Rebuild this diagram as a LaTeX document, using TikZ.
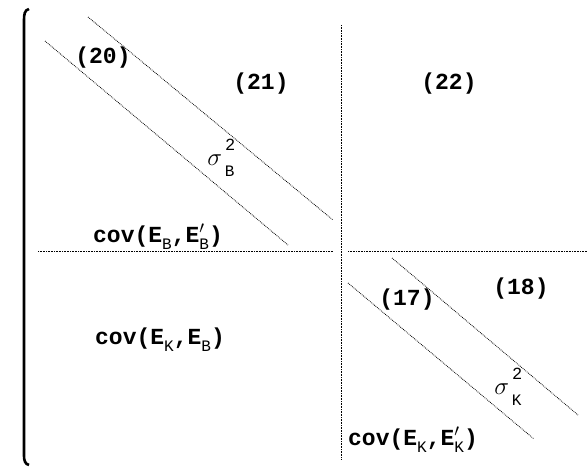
\documentclass[tikz,border=0pt]{standalone}
\usepackage{fontspec}
\setmonofont{Liberation Mono}
\usetikzlibrary{positioning}
\newcommand{\lowsub}[1]{\raisebox{-0.55ex}{\fontsize{16}{16}\mdseries\selectfont #1}}
\newcommand{\sigsq}[1]{\fontsize{26}{28}\selectfont$\sigma$\rlap{\raisebox{1.1ex}{\fontsize{17}{17}\mdseries\selectfont\,2}}\raisebox{-0.8ex}{\fontsize{16}{16}\mdseries\selectfont\,#1}}
\tikzset{
  lbl/.style={font=\ttfamily\bfseries\fontsize{23}{26}\selectfont, inner sep=1pt},
  sep/.style={dash pattern=on 0.8pt off 0.8pt, line width=0.9pt},
  diag/.style={dash pattern=on 0.8pt off 1pt, line width=0.8pt},
  brk/.style={line width=2.6pt},
}
\begin{document}
\begin{tikzpicture}[x=1pt, y=-1pt]
    \useasboundingbox (0,0) rectangle (587,467);
    % outer bracket
    \draw[brk] (29,9) to[out=190,in=90] (24,20) -- (24,456) to[out=-90,in=170] (29,465);
    % block separators
    \coordinate (vtop) at (341,25);
    \coordinate (vbot) at (341,460);
    \coordinate (hl1) at (38,251);
    \coordinate (hl2) at (333,251);
    \coordinate (hr1) at (348,251);
    \coordinate (hr2) at (587,251);
    \draw[sep] (vtop) -- (vbot);
    \draw[sep] (hl1) -- (hl2);
    \draw[sep] (hr1) -- (hr2);
    % upper left block
    \coordinate (bu1) at (88,17);
    \coordinate (bu2) at (333,220);
    \coordinate (bl1) at (45,41);
    \coordinate (bl2) at (288,245);
    \draw[diag] (bu1) -- (bu2);
    \draw[diag] (bl1) -- (bl2);
    \node[lbl] (eq20) at (103,58) {(20)};
    \node[lbl] (eq21) at (261,84) {(21)};
    \node[lbl] (eq22) at (449,84) {(22)};
    \node[lbl] (sigB) at (221,158) {\sigsq{B}};
    \node[lbl] (covBB) at (158,237) {cov(E\lowsub{B},E\rlap{$'$}\lowsub{B})};
    % lower right block
    \coordinate (ku1) at (392,258);
    \coordinate (ku2) at (578,415);
    \coordinate (kl1) at (348,283);
    \coordinate (kl2) at (534,439);
    \draw[diag] (ku1) -- (ku2);
    \draw[diag] (kl1) -- (kl2);
    \node[lbl] (eq17) at (407,300) {(17)};
    \node[lbl] (eq18) at (521,289) {(18)};
    \node[lbl] (sigK) at (508,387) {\sigsq{K}};
    \node[lbl] (covKK) at (413,440) {cov(E\lowsub{K},E\rlap{$'$}\lowsub{K})};
    % lower left block
    \node[lbl] (covKB) at (160,340) {cov(E\lowsub{K},E\lowsub{B})};
\end{tikzpicture}
\end{document}
